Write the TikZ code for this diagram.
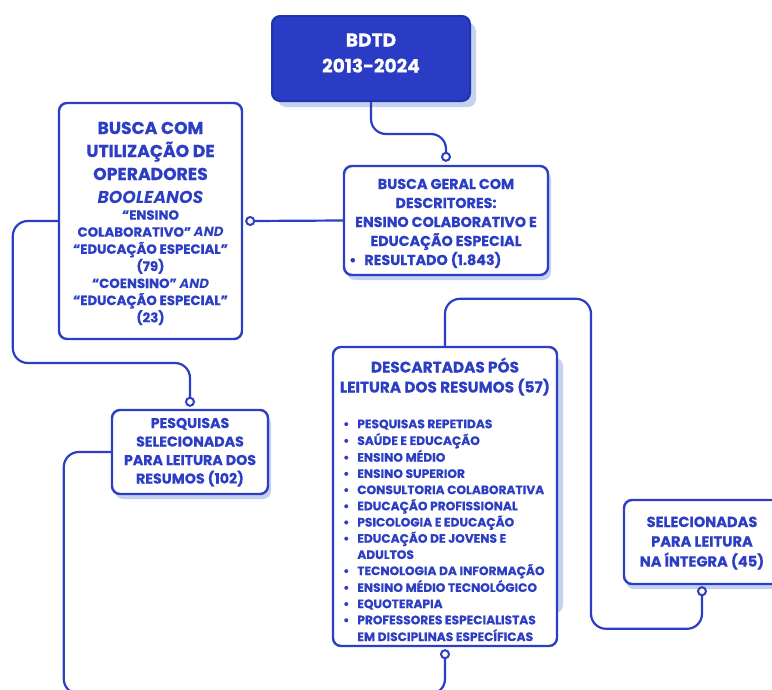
\documentclass[tikz,border=0pt]{standalone}
\usepackage{fontspec}
\setmainfont{Poppins}[BoldFeatures={FakeBold=0.5}]
\definecolor{mainblue}{RGB}{44,62,196}
\definecolor{boxblue}{RGB}{42,60,198}
\definecolor{boxedge}{RGB}{30,52,170}
\definecolor{shadowblue}{RGB}{196,210,240}
\begin{document}
\begin{tikzpicture}[x=1pt,y=-1pt,
  diabox/.style={draw=mainblue, line width=2.4pt, fill=white, rounded corners=8pt, inner sep=0pt},
  topbox/.style={draw=boxedge, line width=2pt, fill=boxblue, rounded corners=8pt, inner sep=0pt},
  shade/.style={fill=shadowblue, rounded corners=8pt},
  txt/.style={text=mainblue, inner sep=0pt, anchor=base},
  conn/.style={draw=mainblue, line width=2.2pt, rounded corners=15pt},
  endcircle/.style={draw=mainblue, line width=2pt, fill=white}]
\useasboundingbox (0,0) rectangle (772,689);
\clip (0,0) rectangle (772,689);
% shadows
\fill[shade] (278,23) rectangle (476,107);
\fill[shade] (347,171) rectangle (551,280);
\fill[shade] (115,415) rectangle (271,499);
\fill[shade] (339,358) rectangle (563,613);
\fill[shade] (626,505) rectangle (782,589);
% boxes
\node[topbox, minimum width=198pt, minimum height=85pt] (top) at (371,58.5) {};
\node[diabox, minimum width=204pt, minimum height=109pt] (busca) at (446,220.5) {};
\node[diabox, minimum width=183pt, minimum height=236pt] (left) at (150.5,221) {};
\node[diabox, minimum width=156pt, minimum height=84pt] (pesq) at (190,452) {};
\node[diabox, minimum width=224pt, minimum height=299pt] (desc) at (445,496.5) {};
\node[diabox, minimum width=156pt, minimum height=84pt] (sel) at (702,542) {};
% circle end coordinates
\coordinate (c1) at ([shift={(0,-8)}]busca.north);
\coordinate (c2) at ([shift={(7,0)}]left.east);
\coordinate (c3) at ([shift={(0,-7)}]pesq.north);
\coordinate (c4) at ([shift={(0,7)}]desc.south);
\coordinate (c5) at ([shift={(0,6)}]sel.south);
% connectors
\draw[conn] (top.south) -- ++(0,32) -| (c1);
\draw[conn] (busca.west) -- (c2);
\draw[conn] (left.west) -- ++(-45,0) -- ++(0,142) -| (c3);
\draw[conn] (pesq.west) -- ++(-47,0) -- ++(0,242) -| (c4);
\draw[conn] (desc.north) -- ++(0,-47) -- ++(146,0) -- ++(0,330) -| (c5);
\foreach \c in {c1,c2,c3,c4,c5} \draw[endcircle] (\c) circle[radius=4pt];
% texts
\node[txt, text=white, font=\bfseries\fontsize{18.6}{26}\selectfont] (ttop) at (371,46.5)
  {\begin{tabular}[t]{@{}c@{}}BDTD\\2013-2024\end{tabular}};
\node[txt, font=\bfseries\fontsize{14.3}{19}\selectfont] (tbusca) at (446,189)
  {\begin{tabular}[t]{@{}c@{}}BUSCA GERAL COM\\DESCRITORES:\\ENSINO COLABORATIVO E\\EDUCAÇÃO ESPECIAL\end{tabular}};
\node[txt, anchor=base west, font=\bfseries\fontsize{14.3}{19}\selectfont] (tbusca2) at (349,265)
  {•\hspace{8pt}RESULTADO (1.843)};
\node[txt, font=\bfseries\fontsize{17.2}{23}\selectfont] (tleft1) at (150.5,134)
  {\begin{tabular}[t]{@{}c@{}}BUSCA COM\\UTILIZAÇÃO DE\\OPERADORES\\\itshape BOOLEANOS\end{tabular}};
\node[txt, font=\bfseries\fontsize{13.3}{17}\selectfont] (tleft2) at (150.5,219.7)
  {\begin{tabular}[t]{@{}c@{}}“ENSINO\\COLABORATIVO” \textit{AND}\\“EDUCAÇÃO ESPECIAL”\\(79)\\“COENSINO” \textit{AND}\\“EDUCAÇÃO ESPECIAL”\\(23)\end{tabular}};
\node[txt, font=\bfseries\fontsize{14.2}{18.5}\selectfont] (tpesq) at (190,428)
  {\begin{tabular}[t]{@{}c@{}}PESQUISAS\\SELECIONADAS\\PARA LEITURA DOS\\RESUMOS (102)\end{tabular}};
\node[txt, font=\bfseries\fontsize{15.3}{20}\selectfont] (tdesc1) at (445,372.5)
  {\begin{tabular}[t]{@{}c@{}}DESCARTADAS PÓS\\LEITURA DOS RESUMOS (57)\end{tabular}};
\node[txt, anchor=base west, font=\bfseries\fontsize{12.2}{16.2}\selectfont] (tdesc2) at (343,428.2)
  {\begin{tabular}[t]{@{}l@{\hspace{8pt}}l@{}}
  •&PESQUISAS REPETIDAS\\
  •&SAÚDE E EDUCAÇÃO\\
  •&ENSINO MÉDIO\\
  •&ENSINO SUPERIOR\\
  •&CONSULTORIA COLABORATIVA\\
  •&EDUCAÇÃO PROFISSIONAL\\
  •&PSICOLOGIA E EDUCAÇÃO\\
  •&EDUCAÇÃO DE JOVENS E\\
  &ADULTOS\\
  •&TECNOLOGIA DA INFORMAÇÃO\\
  •&ENSINO MÉDIO TECNOLÓGICO\\
  •&EQUOTERAPIA\\
  •&PROFESSORES ESPECIALISTAS\\
  &EM DISCIPLINAS ESPECÍFICAS
  \end{tabular}};
\node[txt, font=\bfseries\fontsize{14.6}{19.5}\selectfont] (tsel) at (702,527)
  {\begin{tabular}[t]{@{}c@{}}SELECIONADAS\\PARA LEITURA\\NA ÍNTEGRA (45)\end{tabular}};
\end{tikzpicture}
\end{document}
